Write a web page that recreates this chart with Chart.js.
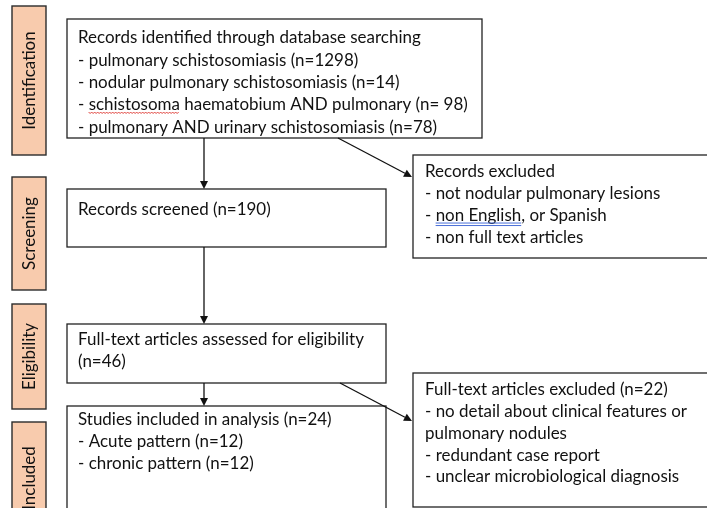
<!DOCTYPE html>
<html><head><meta charset="utf-8">
<script src="https://cdn.jsdelivr.net/npm/chart.js@4/dist/chart.umd.min.js"></script>
<style>html,body{margin:0;padding:0;background:#fff;overflow:hidden}canvas{display:block}</style>
</head><body><canvas id="c" width="707" height="508"></canvas>
<script>
// ---- data (text content of the PRISMA flow) ----
const stageLabels = ["Identification", "Screening", "Eligibility", "Included"];
const searchTerms = ["pulmonary schistosomiasis", "nodular pulmonary schistosomiasis", "schistosoma haematobium AND pulmonary", "pulmonary AND urinary schistosomiasis"];
const searchCounts = ["n=1298", "n=14", "n= 98", "n=78"];
const exclusionReasons = ["not nodular pulmonary lesions", "non English, or Spanish", "non full text articles"];
const screenedCount = ["n=190"];
const assessedCount = ["n=46"];
const fullTextExcludedCount = ["n=22"];
const fullTextExclusionLines = ["- no detail about clinical features or", "pulmonary nodules", "- redundant case report", "- unclear microbiological diagnosis"];
const includedCount = ["n=24"];
const patternNames = ["Acute pattern", "chronic pattern"];
const patternCounts = ["n=12", "n=12"];

// ---- text blocks built from data ----
const identifiedLines = ["Records identified through database searching"].concat(searchTerms.map((t, i) => "- " + t + " (" + searchCounts[i] + ")"));
const recordsExcludedLines = ["Records excluded"].concat(exclusionReasons.map(r => "- " + r));
const screenedLines = ["Records screened (" + screenedCount[0] + ")"];
const assessedLines = ["Full-text articles assessed for eligibility", "(" + assessedCount[0] + ")"];
const fullExcludedLines = ["Full-text articles excluded (" + fullTextExcludedCount[0] + ")"].concat(fullTextExclusionLines);
const includedLines = ["Studies included in analysis (" + includedCount[0] + ")"].concat(patternNames.map((p, i) => "- " + p + " (" + patternCounts[i] + ")"));

// ---- layout (positions in the 707x508 linear scale space) ----
const stageBoxes = [[12, 6, 46, 155], [12, 177, 46, 290], [12, 304, 46, 409], [12, 422, 46, 534]];
const flowBoxes = [
  { r: [67, 19, 482, 138], lines: identifiedLines, tx: 78, ty: 38, gap: 22.3 },
  { r: [413, 155, 712, 258], lines: recordsExcludedLines, tx: 425, ty: 172, gap: 21.7 },
  { r: [67, 189, 386, 247], lines: screenedLines, tx: 78, ty: 210, gap: 22 },
  { r: [67, 324, 386, 383], lines: assessedLines, tx: 78, ty: 340, gap: 22 },
  { r: [413, 373, 712, 507], lines: fullExcludedLines, tx: 425, ty: 390, gap: 21.7 },
  { r: [67, 406, 386, 560], lines: includedLines, tx: 78, ty: 420, gap: 21.6 }
];
const arrows = [
  [204, 138, 204, 189],
  [338, 138, 412, 177],
  [204, 247, 204, 324],
  [204, 383, 204, 406],
  [340, 383, 412, 421]
];

const flowPlugin = {
  id: 'flow',
  afterDraw(chart) {
    const ctx = chart.ctx, xs = chart.scales.x, ys = chart.scales.y;
    const X = v => xs.getPixelForValue(v), Y = v => ys.getPixelForValue(v);
    const FONT = 'Lato, "Noto Sans", sans-serif';
    ctx.save();
    ctx.font = '100px ' + FONT;
    const fs = 100 * 343 / ctx.measureText(identifiedLines[0]).width;
    const font = fs.toFixed(2) + 'px ' + FONT;
    const TEXT = '#111';

    // stage boxes
    stageBoxes.forEach((b, i) => {
      const x0 = X(b[0]), y0 = Y(b[1]), x1 = X(b[2]), y1 = Y(b[3]);
      ctx.fillStyle = '#F8CBAD';
      ctx.fillRect(x0, y0, x1 - x0, y1 - y0);
      ctx.strokeStyle = '#2b2b2b'; ctx.lineWidth = 1.4;
      ctx.strokeRect(x0, y0, x1 - x0, y1 - y0);
      ctx.save();
      ctx.translate((x0 + x1) / 2, (y0 + y1) / 2);
      ctx.rotate(-Math.PI / 2);
      ctx.fillStyle = TEXT; ctx.font = font;
      ctx.textAlign = 'center'; ctx.textBaseline = 'middle';
      ctx.fillText(stageLabels[i], 0, 1);
      ctx.restore();
    });

    // flow boxes
    flowBoxes.forEach(bx => {
      const b = bx.r;
      const x0 = X(b[0]), y0 = Y(b[1]), x1 = X(b[2]), y1 = Y(b[3]);
      ctx.fillStyle = '#fff';
      ctx.fillRect(x0, y0, x1 - x0, y1 - y0);
      ctx.strokeStyle = '#222'; ctx.lineWidth = 1.3;
      ctx.strokeRect(x0, y0, x1 - x0, y1 - y0);
      ctx.fillStyle = TEXT; ctx.font = font;
      ctx.textAlign = 'left'; ctx.textBaseline = 'middle';
      bx.lines.forEach((ln, k) => ctx.fillText(ln, X(bx.tx), Y(bx.ty + k * bx.gap)));
    });

    // spell-check decorations
    ctx.font = font;
    {
      const bx = flowBoxes[0];
      const yL = Y(bx.ty + 3 * bx.gap) + fs * 0.45;
      const xa = X(bx.tx) + ctx.measureText("- ").width;
      const xb = xa + ctx.measureText("schistosoma").width;
      ctx.strokeStyle = '#e0403a'; ctx.lineWidth = 1;
      ctx.beginPath();
      for (let x = xa, k = 0; x <= xb; x += 1.5, k++) {
        const yy = yL + (k % 2 ? 1 : -0.5);
        if (k === 0) ctx.moveTo(x, yy); else ctx.lineTo(x, yy);
      }
      ctx.stroke();
    }
    {
      const bx = flowBoxes[1];
      const yL = Y(bx.ty + 2 * bx.gap) + fs * 0.45;
      const xa = X(bx.tx) + ctx.measureText("- ").width;
      const xb = xa + ctx.measureText("non English").width;
      ctx.strokeStyle = '#4a6fd8'; ctx.lineWidth = 1;
      ctx.beginPath();
      ctx.moveTo(xa, yL); ctx.lineTo(xb, yL);
      ctx.moveTo(xa, yL + 2.5); ctx.lineTo(xb, yL + 2.5);
      ctx.stroke();
    }

    // arrows
    arrows.forEach(a => {
      const x0 = X(a[0]), y0 = Y(a[1]), x1 = X(a[2]), y1 = Y(a[3]);
      const ang = Math.atan2(y1 - y0, x1 - x0);
      const L = 8, W = 4;
      const bxp = x1 - L * Math.cos(ang), byp = y1 - L * Math.sin(ang);
      ctx.strokeStyle = '#111'; ctx.lineWidth = 1.3;
      ctx.beginPath(); ctx.moveTo(x0, y0); ctx.lineTo(bxp, byp); ctx.stroke();
      ctx.fillStyle = '#111';
      ctx.beginPath();
      ctx.moveTo(x1, y1);
      ctx.lineTo(bxp + W * Math.sin(ang), byp - W * Math.cos(ang));
      ctx.lineTo(bxp - W * Math.sin(ang), byp + W * Math.cos(ang));
      ctx.closePath(); ctx.fill();
    });
    ctx.restore();
  }
};

new Chart(document.getElementById('c'), {
  type: 'scatter',
  data: { datasets: [{ data: [], pointRadius: 0 }] },
  options: {
    responsive: false, animation: false, devicePixelRatio: 1, events: [],
    layout: { padding: 0 },
    plugins: { legend: { display: false }, tooltip: { enabled: false }, title: { display: false } },
    scales: {
      x: { type: 'linear', min: 0, max: 707, display: false },
      y: { type: 'linear', min: 0, max: 508, reverse: true, display: false }
    }
  },
  plugins: [flowPlugin]
});
</script></body></html>
